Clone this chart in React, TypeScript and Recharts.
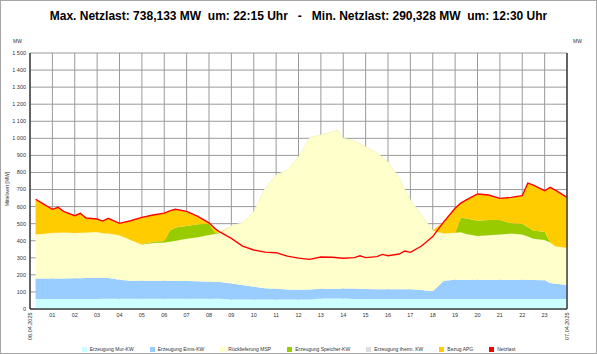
import React from 'react';
import { ComposedChart, Area, Line, XAxis, YAxis, CartesianGrid } from 'recharts';

// Zeitpunkte in Stunden (Viertelstundenwerte, ausgedünnt)
const times = [0.25, 0.5, 1, 1.25, 1.5, 2, 2.25, 2.5, 3, 3.25, 3.5, 4, 4.5, 5, 5.5, 6, 6.25, 6.5, 7, 7.5, 8, 8.25, 8.5, 9, 9.5, 10, 10.5, 11, 11.5, 12, 12.5, 13, 13.5, 13.75, 14, 14.5, 14.75, 15, 15.5, 15.75, 16, 16.5, 16.75, 17, 17.5, 18, 18.5, 19, 19.25, 19.5, 20, 20.5, 21, 21.5, 22, 22.25, 22.5, 23, 23.25, 23.5, 24];

const murKW = [58, 58, 58, 58, 58, 58, 58, 58, 58, 60, 60, 60, 60, 60, 60, 60, 60, 60, 60, 60, 60, 60, 60, 55, 55, 55, 55, 55, 55, 55, 55, 62, 62, 62, 62, 58, 58, 58, 58, 58, 58, 58, 58, 58, 58, 58, 58, 58, 58, 58, 58, 58, 58, 58, 58, 58, 58, 58, 58, 58, 58];

const ennsKW = [120, 120, 121, 121, 121, 122, 122, 123, 124, 122, 122, 112, 106, 105, 105, 105, 105, 104, 104, 103, 100, 99, 98, 95, 85, 75, 67, 63, 59, 58, 59, 56, 56, 57, 58, 62, 61, 59, 57, 57, 57, 57, 58, 58, 54, 46, 107, 114, 114, 114, 114, 114, 114, 114, 113, 113, 112, 110, 94, 90, 82];

const mspRueck = [260, 262, 268, 268, 269, 266, 267, 267, 269, 262, 261, 260, 238, 213, 221, 225, 229, 236, 248, 257, 274, 281, 287, 338, 365, 440, 583, 667, 700, 779, 890, 902, 921, 930, 881, 864, 849, 834, 799, 775, 748, 651, 584, 523, 439, 356, 278, 275, 278, 268, 256, 260, 265, 270, 265, 254, 242, 236, 238, 218, 219];

const speicherKW = [0, 0, 0, 0, 0, 0, 0, 0, 0, 0, 0, 0, 0, 2, 8, 8, 66, 77, 74, 76, 66, 10, 0, 0, 0, 0, 0, 0, 0, 0, 0, 0, 0, 0, 0, 0, 0, 0, 0, 0, 0, 0, 0, 0, 0, 0, 0, 0, 85, 91, 89, 89, 84, 60, 62, 55, 47, 49, 0, 0, 0];

const bezugAPG = [205, 183, 137, 149, 124, 101, 114, 85, 76, 71, 88, 70, 113, 157, 157, 164, 115, 107, 86, 47, 5, 23, 5, 0, 0, 0, 0, 0, 0, 0, 0, 0, 0, 0, 0, 0, 0, 0, 0, 0, 0, 0, 0, 0, 0, 0, 69, 143, 85, 108, 157, 147, 127, 152, 166, 258, 267, 240, 323, 329, 295];

const netzlast = [643, 623, 584, 596, 572, 547, 561, 533, 527, 515, 531, 502, 517, 537, 551, 562, 575, 584, 572, 543, 505, 473, 450, 414, 368, 346, 333, 330, 310, 298, 291, 305, 303, 300, 297, 301, 312, 301, 307, 320, 312, 322, 340, 332, 369, 424, 512, 590, 620, 639, 674, 668, 648, 654, 664, 738, 726, 693, 713, 695, 654];

const hourTicks = [1, 2, 3, 4, 5, 6, 7, 8, 9, 10, 11, 12, 13, 14, 15, 16, 17, 18, 19, 20, 21, 22, 23];
const mwTicks = [0, 100, 200, 300, 400, 500, 600, 700, 800, 900, 1000, 1100, 1200, 1300, 1400, 1500];

const legendItems = [
  { name: 'Erzeugung Mur-KW', color: '#ccffff' },
  { name: 'Erzeugung Enns-KW', color: '#99ccff' },
  { name: 'Rücklieferung MSP', color: '#ffffcc' },
  { name: 'Erzeugung Speicher-KW', color: '#99cc00' },
  { name: 'Erzeugung therm. KW', color: '#dddddd' },
  { name: 'Bezug APG', color: '#ffcc00' },
  { name: 'Netzlast', color: '#ff0000' },
];

const data = times.map((t, i) => ({
  t,
  mur: murKW[i],
  enns: ennsKW[i],
  msp: mspRueck[i],
  speicher: speicherKW[i],
  apg: bezugAPG[i],
  netz: netzlast[i],
}));

const font = '"Liberation Sans", Arial, sans-serif';
const fmtMW = (v: number) => (v >= 1000 ? `${Math.floor(v / 1000)}\u00a0${String(v % 1000).padStart(3, '0')}` : String(v));
const fmtHour = (v: number) => String(v).padStart(2, '0');
const tickStyle = { fontSize: 5.5, fill: '#333', fontFamily: font };
const frame = { stroke: '#404040', strokeWidth: 1.5 };

export default function App() {
  return (
    <div style={{ position: 'absolute', left: 0, top: 0, width: 597, height: 354, background: '#fff', fontFamily: font }}>
      <div style={{ position: 'absolute', top: 9, left: 0, width: 597, textAlign: 'center', fontWeight: 'bold', fontSize: 12, whiteSpace: 'pre', color: '#000' }}>
        {'Max. Netzlast: 738,133 MW  um: 22:15 Uhr   -   Min. Netzlast: 290,328 MW  um: 12:30 Uhr'}
      </div>
      <ComposedChart width={597} height={354} data={data} margin={{ top: 53, right: 0, left: 0, bottom: 0 }}>
        <CartesianGrid yAxisId="l" stroke="#9a9a9a" strokeWidth={1} />
        <XAxis dataKey="t" type="number" domain={[0, 24]} ticks={hourTicks} tickFormatter={fmtHour}
          interval={0} tickLine={false} tickSize={2} tickMargin={2} axisLine={frame} tick={tickStyle} height={45} />
        <XAxis xAxisId="top" orientation="top" dataKey="t" type="number" domain={[0, 24]} tick={false} tickLine={false}
          height={0} axisLine={frame} />
        <YAxis yAxisId="l" domain={[0, 1500]} ticks={mwTicks} tickFormatter={fmtMW} interval={0} width={30}
          tickLine={false} tickSize={2} tickMargin={2} axisLine={frame} tick={tickStyle} />
        <YAxis yAxisId="r" orientation="right" domain={[0, 1500]} ticks={mwTicks} tickFormatter={fmtMW} interval={0} width={30}
          tickLine={false} tickSize={2} tickMargin={4} axisLine={frame} tick={{ ...tickStyle, textAnchor: 'start' }} />
        <Area yAxisId="l" type="linear" dataKey="mur" stackId="s" stroke="none" fill="#ccffff" fillOpacity={1} isAnimationActive={false} />
        <Area yAxisId="l" type="linear" dataKey="enns" stackId="s" stroke="none" fill="#99ccff" fillOpacity={1} isAnimationActive={false} />
        <Area yAxisId="l" type="linear" dataKey="msp" stackId="s" stroke="#f2f2b8" strokeWidth={0.8} fill="#ffffcc" fillOpacity={1} isAnimationActive={false} />
        <Area yAxisId="l" type="linear" dataKey="speicher" stackId="s" stroke="none" fill="#99cc00" fillOpacity={1} isAnimationActive={false} />
        <Area yAxisId="l" type="linear" dataKey="apg" stackId="s" stroke="none" fill="#ffcc00" fillOpacity={1} isAnimationActive={false} />
        <Line yAxisId="l" type="linear" dataKey="netz" stroke="#ff0000" strokeWidth={1.4} dot={false} isAnimationActive={false} />
      </ComposedChart>
      <svg width={597} height={354} style={{ position: 'absolute', left: 0, top: 0, pointerEvents: 'none' }}>
        <text x={22} y={43} fontSize={5} fill="#333" textAnchor="end" fontFamily={font}>MW</text>
        <text x={573} y={43} fontSize={5} fill="#333" textAnchor="start" fontFamily={font}>MW</text>
        <text transform="translate(9,189) rotate(-90)" fontSize={5} fill="#333" textAnchor="middle" fontFamily={font}>Mittelwert [MW]</text>
        <text transform="translate(32,340) rotate(-90)" fontSize={5.5} fill="#333" textAnchor="start" fontFamily={font}>06.04.2025</text>
        <text transform="translate(569,340) rotate(-90)" fontSize={5.5} fill="#333" textAnchor="start" fontFamily={font}>07.04.2025</text>
      </svg>
      <div style={{ position: 'absolute', left: 0, top: 346, width: 597, display: 'flex', justifyContent: 'center', gap: 16, fontSize: 5, color: '#333', lineHeight: '6px' }}>
        {legendItems.map((it) => (
          <div key={it.name} style={{ display: 'flex', alignItems: 'center', gap: 3 }}>
            <span style={{ display: 'inline-block', width: 5, height: 5, background: it.color }} />
            <span>{it.name}</span>
          </div>
        ))}
      </div>
      <div style={{ position: 'absolute', left: 0, top: 0, width: 597, height: 354, boxSizing: 'border-box', border: '1px solid #a6a6a6', pointerEvents: 'none' }} />
    </div>
  );
}
